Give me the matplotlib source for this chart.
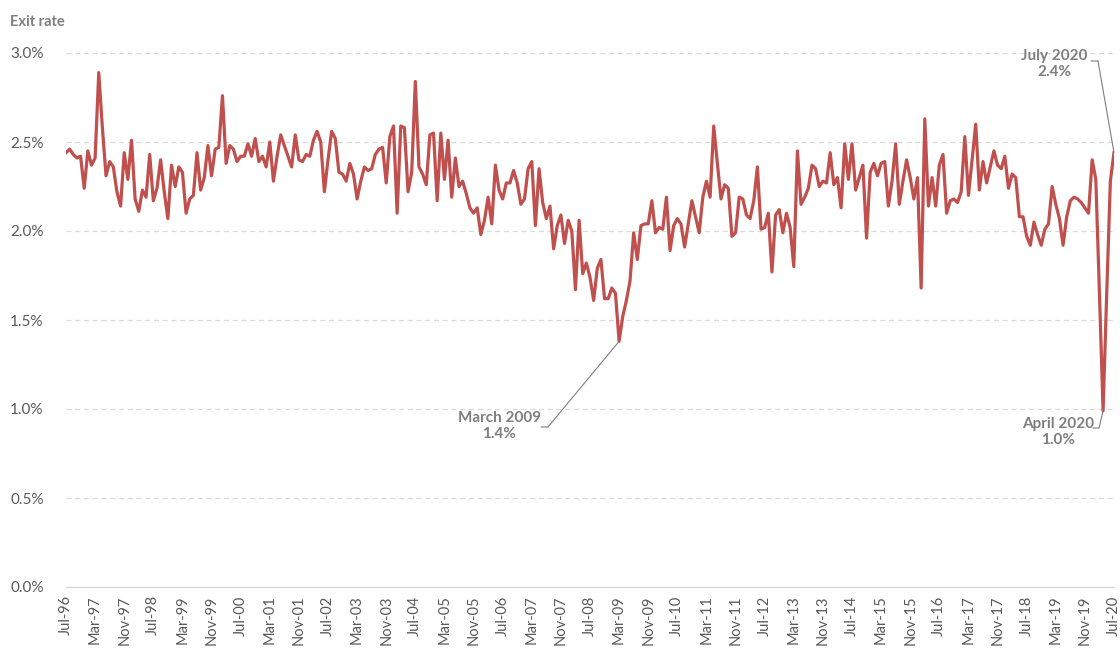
import matplotlib
matplotlib.use("Agg")
import matplotlib.pyplot as plt
import pandas as pd

# monthly exit rate (%), Jul-96 .. Jul-20
exit_rate = [
    2.44, 2.46, 2.43, 2.41, 2.42, 2.24, 2.45, 2.37, 2.41, 2.89, 2.58, 2.31,
    2.39, 2.36, 2.22, 2.14, 2.44, 2.29, 2.51, 2.18, 2.11, 2.23, 2.19, 2.43,
    2.17, 2.24, 2.40, 2.22, 2.07, 2.37, 2.25, 2.36, 2.33, 2.10, 2.18, 2.20,
    2.44, 2.23, 2.30, 2.48, 2.31, 2.46, 2.47, 2.76, 2.38, 2.48, 2.46, 2.39,
    2.42, 2.42, 2.49, 2.42, 2.52, 2.39, 2.42, 2.36, 2.50, 2.28, 2.42, 2.54,
    2.48, 2.42, 2.36, 2.54, 2.40, 2.39, 2.43, 2.42, 2.51, 2.56, 2.50, 2.22,
    2.40, 2.56, 2.52, 2.33, 2.32, 2.28, 2.38, 2.32, 2.18, 2.28, 2.36, 2.34,
    2.35, 2.43, 2.46, 2.47, 2.27, 2.53, 2.59, 2.10, 2.59, 2.58, 2.22, 2.33,
    2.84, 2.36, 2.32, 2.26, 2.54, 2.55, 2.17, 2.55, 2.29, 2.51, 2.19, 2.41,
    2.25, 2.28, 2.21, 2.13, 2.10, 2.13, 1.98, 2.06, 2.19, 2.04, 2.37, 2.23,
    2.18, 2.27, 2.27, 2.34, 2.27, 2.15, 2.18, 2.35, 2.39, 2.03, 2.35, 2.16,
    2.07, 2.14, 1.90, 2.03, 2.09, 1.93, 2.06, 2.00, 1.67, 2.06, 1.76, 1.82,
    1.74, 1.61, 1.79, 1.84, 1.62, 1.62, 1.68, 1.65, 1.38, 1.52, 1.61, 1.72,
    1.99, 1.84, 2.03, 2.04, 2.04, 2.17, 1.99, 2.02, 2.01, 2.19, 1.89, 2.03,
    2.07, 2.04, 1.91, 2.04, 2.17, 2.08, 1.99, 2.19, 2.28, 2.19, 2.59, 2.38,
    2.18, 2.26, 2.24, 1.97, 1.99, 2.19, 2.18, 2.09, 2.07, 2.17, 2.36, 2.01,
    2.02, 2.10, 1.77, 2.09, 2.12, 1.99, 2.10, 2.02, 1.80, 2.45, 2.15, 2.19,
    2.24, 2.37, 2.35, 2.25, 2.28, 2.27, 2.44, 2.26, 2.30, 2.13, 2.49, 2.29,
    2.49, 2.23, 2.30, 2.37, 1.96, 2.33, 2.38, 2.31, 2.38, 2.39, 2.14, 2.28,
    2.49, 2.15, 2.28, 2.40, 2.30, 2.18, 2.30, 1.68, 2.63, 2.14, 2.30, 2.14,
    2.37, 2.43, 2.10, 2.17, 2.18, 2.16, 2.22, 2.53, 2.20, 2.40, 2.60, 2.23,
    2.39, 2.27, 2.36, 2.45, 2.37, 2.35, 2.42, 2.24, 2.32, 2.30, 2.08, 2.08,
    1.97, 1.92, 2.05, 1.98, 1.92, 2.01, 2.04, 2.25, 2.15, 2.07, 1.92, 2.08,
    2.17, 2.19, 2.18, 2.16, 2.13, 2.10, 2.40, 2.29, 1.65, 0.99, 1.65, 2.28,
    2.44,
]
months = pd.date_range("1996-07-01", periods=len(exit_rate), freq="MS")
month_labels = [m.strftime("%b-%y") for m in months]

y_ticks = [0.0, 0.5, 1.0, 1.5, 2.0, 2.5, 3.0]

# callouts: (month, label text)
callouts = [("2009-03", "March 2009"), ("2020-04", "April 2020"), ("2020-07", "July 2020")]

LINE = "#c0504d"
GREY_TXT = "#595959"
NOTE = "#7f7f7f"
GRID = "#d9d9d9"
H = 649

plt.rcParams["font.family"] = ["Lato", "DejaVu Sans"]

fig = plt.figure(figsize=(11.2, 6.49), dpi=100)
ax = fig.add_axes([66 / 1120, (H - 587) / H, (1114 - 66) / 1120, 534 / H])

x = list(range(len(exit_rate)))
ax.plot(x, exit_rate, color=LINE, lw=2.3, solid_joinstyle="round", zorder=3)

ax.set_xlim(0, len(exit_rate) - 1)
ax.set_ylim(0, 3.0)
ax.set_yticks(y_ticks)
ax.set_yticklabels([f"{v:.1f}%" for v in y_ticks], color=GREY_TXT, fontsize=11)
ax.set_xticks(x[::8])
ax.set_xticklabels(month_labels[::8], rotation=90, color=GREY_TXT, fontsize=10.5)
ax.tick_params(axis="both", length=0)
ax.tick_params(axis="y", pad=16)
ax.tick_params(axis="x", pad=6)

ax.grid(axis="y", color=GRID, lw=0.9, linestyle=(0, (4, 3)))
ax.set_axisbelow(True)
for s in ["top", "right", "left"]:
    ax.spines[s].set_visible(False)
ax.spines["bottom"].set_color(GRID)
ax.spines["bottom"].set_linewidth(1.0)
ax.spines["bottom"].set_zorder(1)

fig.text(10 / 1120, 1 - 22 / H, "Exit rate", color=NOTE, fontsize=10.5,
         fontweight="bold", va="center", ha="left")

# label placement in figure pixels (centre of text block, start of leader)
label_pos = {
    "2009-03": ((499, 426), (541, 427), (548, 427)),
    "2020-04": ((1058, 432), (1093, 428), (1099, 428)),
    "2020-07": ((1054, 64), (1091, 61), (1098, 61)),
}
for key, name in callouts:
    i = month_labels.index(pd.Timestamp(key + "-01").strftime("%b-%y"))
    val = exit_rate[i]
    (tx, ty), (l0, ly), (l1, _) = label_pos[key]
    fig.text(tx / 1120, 1 - ty / H, f"{name}\n{val:.1f}%", color=NOTE,
             fontsize=11, fontweight="bold", ha="center", va="center",
             linespacing=1.25)
    ax.annotate("", xy=(l1, H - ly), xycoords="figure pixels",
                xytext=(l0, H - ly), textcoords="figure pixels",
                arrowprops=dict(arrowstyle="-", color=NOTE, lw=0.8,
                                shrinkA=0, shrinkB=0))
    ax.annotate("", xy=(i, val), xycoords="data",
                xytext=(l1, H - ly), textcoords="figure pixels",
                arrowprops=dict(arrowstyle="-", color=NOTE, lw=0.8,
                                shrinkA=0, shrinkB=0), annotation_clip=False)

fig.savefig("out.png", dpi=100)
